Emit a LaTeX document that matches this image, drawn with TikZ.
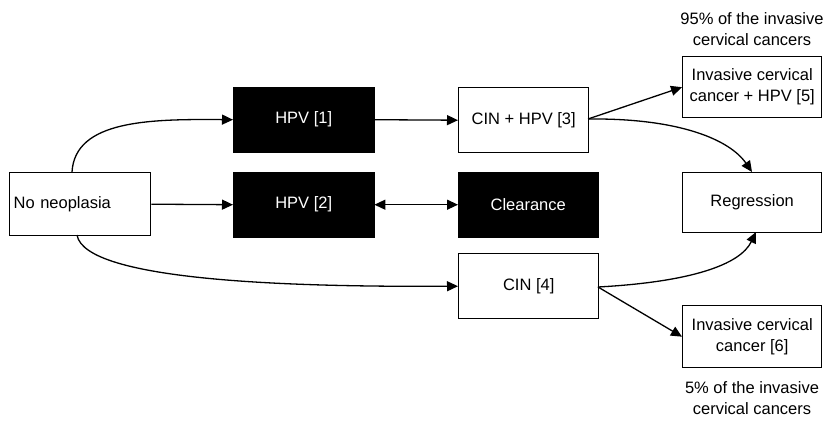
\documentclass[tikz,border=0pt]{standalone}
\usepackage{fontspec}
\setmainfont{Liberation Sans}
\usetikzlibrary{arrows.meta}
\begin{document}
\begin{tikzpicture}[x=1pt,y=-1pt,
  every node/.style={font=\fontsize{16.5}{21}\selectfont},
  wbox/.style={draw=black,line width=1.4pt,fill=white,inner sep=0pt,align=center},
  bbox/.style={draw=black,fill=black,text=white,inner sep=0pt,align=center},
  lbl/.style={align=center,inner sep=0pt},
  conn/.style={line width=1.3pt,-{Triangle[length=11pt,width=10pt]}},
  bconn/.style={line width=1.3pt,{Triangle[length=11pt,width=10pt]}-{Triangle[length=11pt,width=10pt]}}]
\useasboundingbox (0,0) rectangle (829,423);
\node[wbox,minimum width=141,minimum height=63,anchor=north west,text width=133,align=left] (no) at (9,172) {No neoplasia};
\node[bbox,minimum width=141,minimum height=65,anchor=north west] (h1) at (233,87) {HPV [1]};
\node[bbox,minimum width=141,minimum height=65,anchor=north west] (h2) at (233,172) {HPV [2]};
\node[wbox,minimum width=130,minimum height=65,anchor=north west] (c3) at (458,87) {CIN + HPV [3]};
\node[bbox,minimum width=140,minimum height=65,anchor=north west] (cl) at (458,172) {Clearance};
\node[wbox,minimum width=140,minimum height=65,anchor=north west] (c4) at (458,253) {CIN [4]};
\node[wbox,minimum width=139,minimum height=61,anchor=north west] (i5) at (682,56) {Invasive cervical\\cancer + HPV [5]};
\node[wbox,minimum width=139,minimum height=60,anchor=north west] (rg) at (682,172) {Regression};
\node[wbox,minimum width=139,minimum height=62,anchor=north west] (i6) at (682,305) {Invasive cervical\\cancer [6]};
\node[lbl] (t95) at (752,29) {95\% of the invasive\\cervical cancers};
\node[lbl] (t5) at (752,398) {5\% of the invasive\\cervical cancers};
\coordinate (nt) at (72,172);
\coordinate (nb) at (77,235);
\coordinate (c3e) at (588,119);
\coordinate (c4e) at (598,287);
\draw[conn] (nt) .. controls (75,120) and (150,119) .. (h1.west);
\draw[conn] (no.east) -- (h2.west);
\draw[conn] (nb) .. controls (85,282) and (300,287) .. (c4.west);
\draw[conn] (h1.east) -- (c3.west);
\draw[bconn] (h2.east) -- (cl.west);
\draw[conn] (c3e) -- (i5.west);
\draw[conn] (c3e) .. controls (680,118) and (730,140) .. (752,172);
\draw[conn] (c4e) .. controls (690,282) and (740,265) .. (756,232);
\draw[conn] (c4e) -- (i6.west);
\end{tikzpicture}
\end{document}
